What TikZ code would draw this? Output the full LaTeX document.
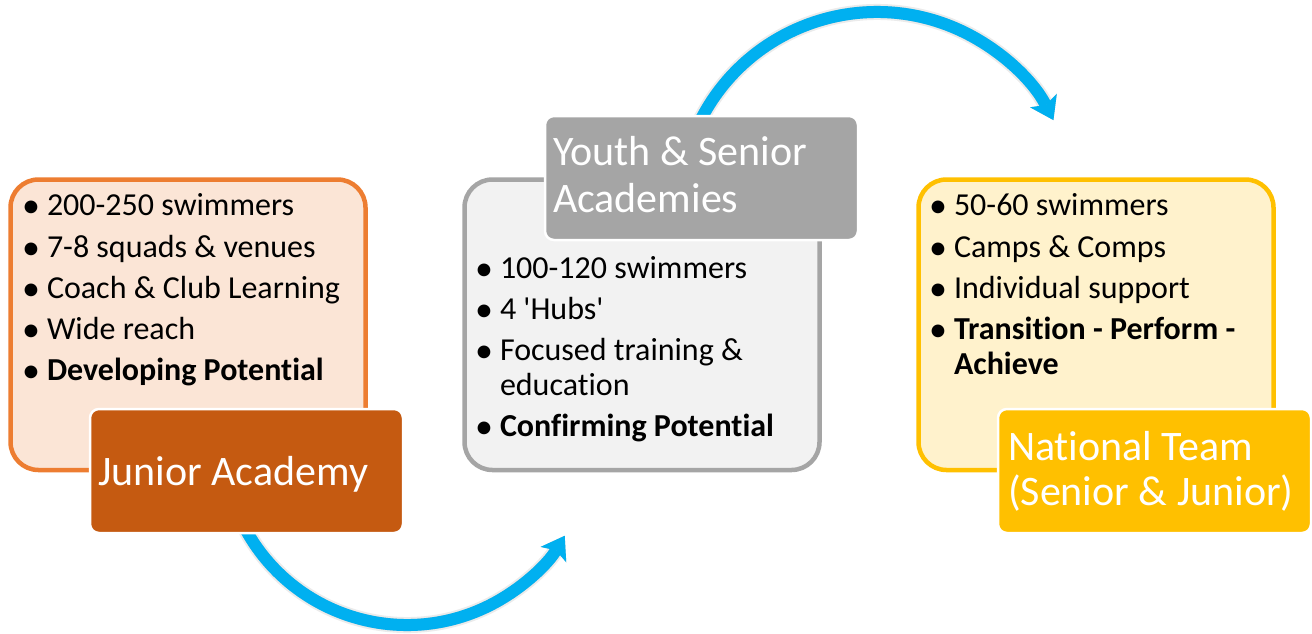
\documentclass[tikz,border=0pt]{standalone}
\usepackage{fontspec}
\setmainfont{Carlito}[Ligatures=NoCommon]
\usetikzlibrary{arrows.meta}
\definecolor{jfill}{HTML}{FBE5D6}
\definecolor{jline}{HTML}{ED7D31}
\definecolor{jhead}{HTML}{C55A11}
\definecolor{yfill}{HTML}{F2F2F2}
\definecolor{yline}{HTML}{A5A5A5}
\definecolor{nfill}{HTML}{FFF2CC}
\definecolor{nline}{HTML}{FFC000}
\definecolor{arrowblue}{HTML}{00B0F0}
\newcommand{\bulmark}{\makebox[22pt][l]{\hspace*{-3pt}\raisebox{-2.5pt}{\fontsize{36}{36}\selectfont\textbullet}}}
\begin{document}
\begin{tikzpicture}[x=1pt,y=-1pt,
  panel/.style={draw, line width=4.5pt, rounded corners=28pt, inner sep=0pt, outer sep=0pt,
                minimum width=355pt, minimum height=290.5pt},
  header/.style={draw=white, line width=2.5pt, rounded corners=9pt, inner sep=0pt, outer sep=0pt,
                 minimum width=313pt, minimum height=124pt},
  itm/.style={anchor=base west, inner sep=0pt, outer sep=0pt, font=\fontsize{32}{38}\selectfont, text=black},
  htxt/.style={anchor=base west, inner sep=0pt, outer sep=0pt, font=\fontsize{42}{47}\selectfont, text=white},
  tipshape/.style={-{Stealth[length=22pt,width=30pt,inset=5pt,line width=0pt]}},
  flow/.style={draw=arrowblue, line width=12pt, tipshape},
  flowshadow/.style={draw=black, line width=#1, tipshape, shift={(3,4)}}
]
\useasboundingbox (0,0) rectangle (1312,633);

% arc centres of the two flow arrows
\coordinate (c1) at (407,441);
\coordinate (c2) at (877,210);

% soft shadows
\begin{scope}[transparency group, opacity=0.08]
  \draw[flowshadow=16pt] (c1) ++(152:184) arc[start angle=152, end angle=31, radius=184];
  \draw[flowshadow=16pt] (c2) ++(205:198) arc[start angle=205, end angle=333, radius=198];
\end{scope}
\begin{scope}[transparency group, opacity=0.14]
  \draw[flowshadow=12pt] (c1) ++(152:184) arc[start angle=152, end angle=31, radius=184];
  \draw[flowshadow=12pt] (c2) ++(205:198) arc[start angle=205, end angle=333, radius=198];
\end{scope}
% arrows
\draw[flow] (c1) ++(152:184) arc[start angle=152, end angle=31, radius=184];
\draw[flow] (c2) ++(205:198) arc[start angle=205, end angle=333, radius=198];

% panels
\node[panel, draw=jline, fill=jfill] (jpanel) at (188,324.75) {};
\node[panel, draw=yline, fill=yfill] (ypanel) at (642,324.75) {};
\node[panel, draw=nline, fill=nfill] (npanel) at (1096,324.75) {};

% headers
\node[header, fill=jhead] (jhead) at (246.5,471) {};
\node[header, fill=yline] (yhead) at (701.5,178) {};
\node[header, fill=nline] (nhead) at (1154.5,471) {};

\node[htxt] (jt) at (98,485) {Junior Academy};
\node[htxt] (yt1) at (553,165) {Youth \& Senior};
\node[htxt] (yt2) at (553,212) {Academies};
\node[htxt] (nt1) at (1008,460) {National Team};
\node[htxt] (nt2) at (1008,505) {(Senior \& Junior)};

% junior items
\node[itm] (j1) at (25,215) {\bulmark 200-250 swimmers};
\node[itm] (j2) at (25,257) {\bulmark 7-8 squads \& venues};
\node[itm] (j3) at (25,298) {\bulmark Coach \& Club Learning};
\node[itm] (j4) at (25,339) {\bulmark Wide reach};
\node[itm] (j5) at (25,380) {\bulmark\textbf{Developing Potential}};

% youth items
\node[itm] (y1) at (478,278) {\bulmark 100-120 swimmers};
\node[itm] (y2) at (478,319) {\bulmark 4 \textquotesingle Hubs\textquotesingle};
\node[itm] (y3) at (478,360) {\bulmark Focused training \&};
\node[itm] (y3b) at (500,395) {education};
\node[itm] (y4) at (478,436) {\bulmark\textbf{Confirming Potential}};

% national items
\node[itm] (n1) at (932,215) {\bulmark 50-60 swimmers};
\node[itm] (n2) at (932,257) {\bulmark Camps \& Comps};
\node[itm] (n3) at (932,298) {\bulmark Individual support};
\node[itm] (n4) at (932,339) {\bulmark\textbf{Transition - Perform -}};
\node[itm] (n4b) at (954,374) {\textbf{Achieve}};
\end{tikzpicture}
\end{document}
